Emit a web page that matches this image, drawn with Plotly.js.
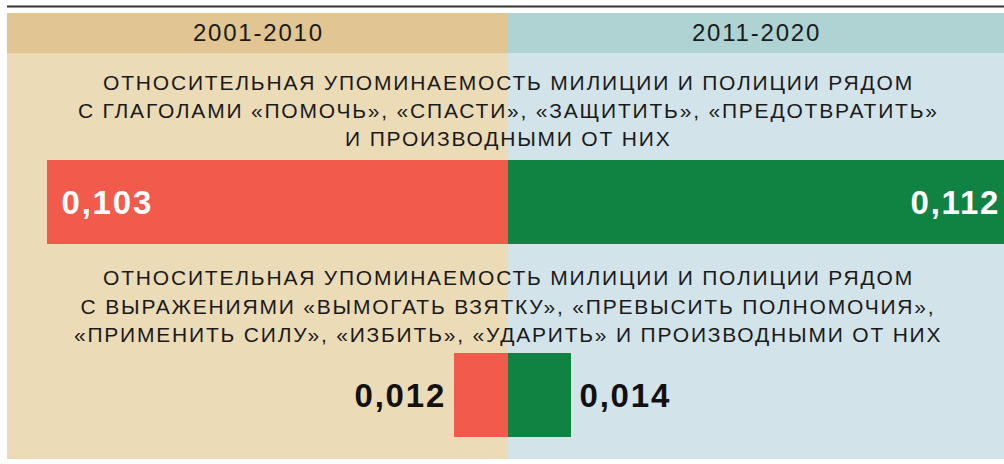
<!DOCTYPE html>
<html>
<head>
<meta charset="utf-8">
<script src="https://cdn.plot.ly/plotly-3.0.1.min.js"></script>
<style>
body{margin:0;background:#fff}
#chart .annotation-text{letter-spacing:1.8px}
</style>
</head>
<body>
<div id="chart" style="width:1004px;height:464px"></div>
<script>
// ---- data ----
const periods = ['2001-2010', '2011-2020'];
const measures = ['help', 'harm'];
const values2001 = [0.103, 0.012];
const values2011 = [0.112, 0.014];
const labels2001 = ['0,103', '0,012'];
const labels2011 = ['0,112', '0,014'];
const titleHelp = [
  'ОТНОСИТЕЛЬНАЯ УПОМИНАЕМОСТЬ МИЛИЦИИ И ПОЛИЦИИ РЯДОМ',
  'С ГЛАГОЛАМИ «ПОМОЧЬ», «СПАСТИ», «ЗАЩИТИТЬ», «ПРЕДОТВРАТИТЬ»',
  'И ПРОИЗВОДНЫМИ ОТ НИХ'
];
const titleHarm = [
  'ОТНОСИТЕЛЬНАЯ УПОМИНАЕМОСТЬ МИЛИЦИИ И ПОЛИЦИИ РЯДОМ',
  'С ВЫРАЖЕНИЯМИ «ВЫМОГАТЬ ВЗЯТКУ», «ПРЕВЫСИТЬ ПОЛНОМОЧИЯ»,',
  '«ПРИМЕНИТЬ СИЛУ», «ИЗБИТЬ», «УДАРИТЬ» И ПРОИЗВОДНЫМИ ОТ НИХ'
];

// ---- layout helpers ----
const W = 1004, H = 464;
const k = 4476;               // px per unit
const zeroPx = 508;
const px = p => p / W;
const py = p => 1 - p / H;
const FONT = '"Liberation Sans", Arial, sans-serif';

const traces = [
  {
    type: 'bar', orientation: 'h', name: periods[0],
    y: measures, x: values2001.map(v => -v),
    marker: {color: '#f25a4b', line: {width: 0}},
    width: 0.435, hoverinfo: 'none'
  },
  {
    type: 'bar', orientation: 'h', name: periods[1],
    y: measures, x: values2011,
    marker: {color: '#108342', line: {width: 0}},
    width: 0.435, hoverinfo: 'none'
  }
];

const shapes = [
  {type: 'line', xref: 'paper', yref: 'paper', x0: px(7), x1: 1, y0: py(6.5), y1: py(6.5),
   line: {color: '#333333', width: 2}, layer: 'below'},
  {type: 'rect', xref: 'paper', yref: 'paper', x0: px(7), x1: px(zeroPx), y0: py(459), y1: py(53),
   fillcolor: '#ecdbb7', line: {width: 0}, layer: 'below'},
  {type: 'rect', xref: 'paper', yref: 'paper', x0: px(zeroPx), x1: 1, y0: py(459), y1: py(53),
   fillcolor: '#d3e3ea', line: {width: 0}, layer: 'below'},
  {type: 'rect', xref: 'paper', yref: 'paper', x0: px(7), x1: px(zeroPx), y0: py(53), y1: py(13),
   fillcolor: '#e1c592', line: {width: 0}, layer: 'below'},
  {type: 'rect', xref: 'paper', yref: 'paper', x0: px(zeroPx), x1: 1, y0: py(53), y1: py(13),
   fillcolor: '#aed3d2', line: {width: 0}, layer: 'below'}
];

const annotations = [];
// headers
annotations.push({xref: 'paper', yref: 'paper', x: px(258), y: py(33), text: periods[0],
  showarrow: false, xanchor: 'center', yanchor: 'middle', font: {family: FONT, size: 24, color: '#1a1a1a'}});
annotations.push({xref: 'paper', yref: 'paper', x: px(756), y: py(33), text: periods[1],
  showarrow: false, xanchor: 'center', yanchor: 'middle', font: {family: FONT, size: 24, color: '#1a1a1a'}});
// titles
const helpY = [82.5, 110.5, 138.5];
const harmY = [277.5, 306, 334.5];
titleHelp.forEach((t, i) => annotations.push({xref: 'x', yref: 'paper', x: 0, y: py(helpY[i]), text: t,
  showarrow: false, xanchor: 'center', yanchor: 'middle', font: {family: FONT, size: 21, color: '#1a1a1a'}}));
titleHarm.forEach((t, i) => annotations.push({xref: 'x', yref: 'paper', x: 0, y: py(harmY[i]), text: t,
  showarrow: false, xanchor: 'center', yanchor: 'middle', font: {family: FONT, size: 21, color: '#1a1a1a'}}));
// value labels
const valFont = c => ({family: FONT, size: 33, color: c, weight: 'bold'});
// big bars: inside
annotations.push({xref: 'x', yref: 'y', x: -values2001[0], y: measures[0], text: labels2001[0],
  showarrow: false, xanchor: 'left', yanchor: 'middle', xshift: 17, font: valFont('#ffffff')});
// the 2011-2020 bar runs past the right edge of the picture, so its label sits at that edge
annotations.push({xref: 'paper', yref: 'y', x: 1, y: measures[0], text: labels2011[0],
  showarrow: false, xanchor: 'right', yanchor: 'middle', xshift: -6, font: valFont('#ffffff')});
// small bars: outside
annotations.push({xref: 'x', yref: 'y', x: -values2001[1], y: measures[1], text: labels2001[1],
  showarrow: false, xanchor: 'right', yanchor: 'middle', xshift: -10, font: valFont('#111111')});
annotations.push({xref: 'x', yref: 'y', x: values2011[1], y: measures[1], text: labels2011[1],
  showarrow: false, xanchor: 'left', yanchor: 'middle', xshift: 11, font: valFont('#111111')});

const layout = {
  width: W, height: H,
  margin: {l: 0, r: 0, t: 0, b: 0, pad: 0},
  paper_bgcolor: '#ffffff', plot_bgcolor: 'rgba(0,0,0,0)',
  showlegend: false, barmode: 'overlay', bargap: 0,
  xaxis: {range: [-zeroPx / k, (W - zeroPx) / k], visible: false, fixedrange: true},
  yaxis: {type: 'category', categoryarray: measures, categoryorder: 'array',
          range: [(H - 202) / 193, -202 / 193], visible: false, fixedrange: true},
  shapes: shapes,
  annotations: annotations
};

Plotly.newPlot('chart', traces, layout, {staticPlot: true, displayModeBar: false});
</script>
</body>
</html>
